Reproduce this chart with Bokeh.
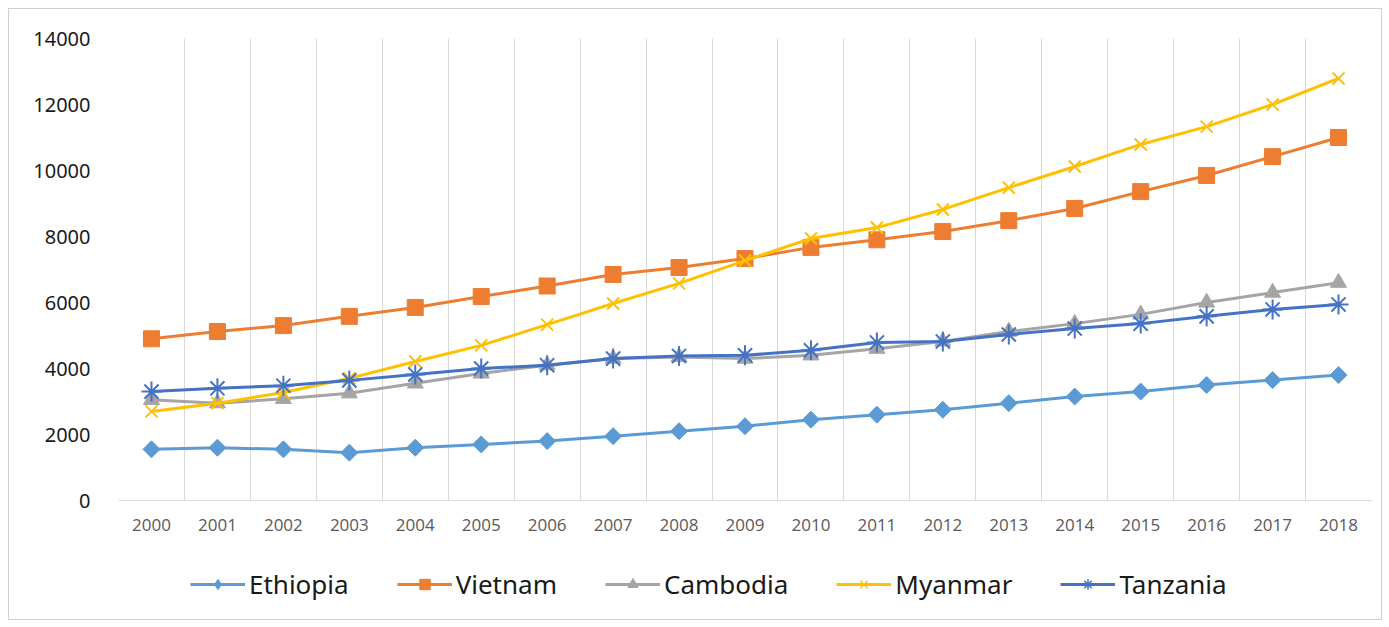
import math
from bokeh.plotting import figure
from bokeh.layouts import column
from bokeh.models import FixedTicker, Range1d, Legend
from bokeh.embed import file_html
from bokeh.resources import INLINE

years = [str(y) for y in range(2000, 2019)]
ethiopia = [1550, 1600, 1550, 1450, 1600, 1700, 1800, 1950, 2100, 2250, 2450, 2600, 2750, 2950, 3150, 3300, 3500, 3650, 3800]
vietnam = [4900, 5120, 5300, 5580, 5850, 6180, 6500, 6850, 7060, 7330, 7670, 7900, 8150, 8480, 8850, 9360, 9850, 10420, 11000]
cambodia = [3050, 2950, 3080, 3250, 3550, 3850, 4100, 4300, 4350, 4300, 4400, 4600, 4820, 5120, 5360, 5640, 6000, 6300, 6600]
myanmar = [2700, 2950, 3270, 3700, 4210, 4700, 5330, 5970, 6580, 7270, 7940, 8270, 8820, 9480, 10120, 10790, 11330, 12000, 12790]
tanzania = [3300, 3400, 3480, 3640, 3820, 4000, 4100, 4300, 4380, 4400, 4550, 4790, 4820, 5030, 5210, 5360, 5580, 5790, 5940]

# name, values, colour, marker, size, angle, legend marker
series = [
    ("Ethiopia", ethiopia, "#5B9BD5", "square", 12, math.pi / 4, "diamond"),
    ("Vietnam", vietnam, "#ED7D31", "square", 16, 0, "square"),
    ("Cambodia", cambodia, "#A5A5A5", "triangle", 16, 0, "triangle"),
    ("Myanmar", myanmar, "#FFC000", "x", 17, 0, "x"),
    ("Tanzania", tanzania, "#4472C4", "asterisk", 20, 0, "asterisk"),
]

xs = list(range(len(years)))

p = figure(width=1372, height=545, output_backend="svg", toolbar_location=None,
           x_range=Range1d(-0.5, len(years) - 0.5), y_range=Range1d(0, 14000),
           min_border_left=109, min_border_right=10, min_border_top=29, min_border_bottom=54)
p.outline_line_color = None
p.background_fill_color = "white"
p.border_fill_color = "white"

# axes
p.xaxis.ticker = FixedTicker(ticks=xs)
p.xaxis.major_label_overrides = {i: y for i, y in enumerate(years)}
p.xaxis.major_tick_line_color = None
p.xaxis.minor_tick_line_color = None
p.xaxis.axis_line_color = "#D9D9D9"
p.xaxis.axis_line_width = 1
p.xaxis.major_label_text_font = "Open Sans"
p.xaxis.major_label_text_font_size = "17px"
p.xaxis.major_label_text_color = "#595959"
p.xaxis.major_label_standoff = 12

p.yaxis.ticker = FixedTicker(ticks=list(range(0, 14001, 2000)))
p.yaxis.major_tick_line_color = None
p.yaxis.minor_tick_line_color = None
p.yaxis.axis_line_color = None
p.yaxis.major_label_text_font = "Noto Sans"
p.yaxis.major_label_text_font_size = "20px"
p.yaxis.major_label_text_color = "#1a1a1a"
p.yaxis.major_label_standoff = 22

p.ygrid.grid_line_color = None
p.xgrid.ticker = FixedTicker(ticks=[i - 0.5 for i in range(len(years) + 1)])
p.xgrid.grid_line_color = "#D9D9D9"
p.xgrid.grid_line_width = 1

# legend figure (series drawn outside its visible range; only the legend shows)
pl = figure(width=1372, height=65, output_backend="svg", toolbar_location=None,
            x_range=Range1d(-0.5, len(years) - 0.5), y_range=Range1d(-2, -1),
            min_border_left=0, min_border_right=0, min_border_top=0, min_border_bottom=0)
pl.xaxis.visible = False
pl.yaxis.visible = False
pl.xgrid.visible = False
pl.ygrid.visible = False
pl.outline_line_color = None
pl.border_fill_color = "white"

items = []
for name, vals, color, marker, size, ang, lmarker in series:
    p.line(xs, vals, line_color=color, line_width=3)
    if marker in ("x", "asterisk"):
        p.scatter(xs, vals, marker=marker, size=size, line_color=color, line_width=2)
        m = pl.scatter(xs, vals, marker=lmarker, size=size, line_color=color, line_width=1.5)
    else:
        p.scatter(xs, vals, marker=marker, size=size, angle=ang, fill_color=color, line_color=color)
        m = pl.scatter(xs, vals, marker=lmarker, size=size, fill_color=color, line_color=color)
    l = pl.line(xs, vals, line_color=color, line_width=3)
    items.append((name, [l, m]))

leg = Legend(items=items, orientation="horizontal", location=(72, 17))
leg.label_text_font = "Noto Sans"
leg.label_text_font_size = "26px"
leg.label_text_color = "#1a1a1a"
leg.glyph_width = 55
leg.glyph_height = 26
leg.spacing = 48
leg.label_standoff = 4
leg.border_line_color = None
leg.background_fill_alpha = 0
leg.padding = 10
pl.add_layout(leg)

layout = column(p, pl, spacing=0,
                styles={"margin-left": "8px", "margin-top": "8px", "border": "1px solid #D0D0D0"})

open("out.html", "w").write(file_html(layout, INLINE))
